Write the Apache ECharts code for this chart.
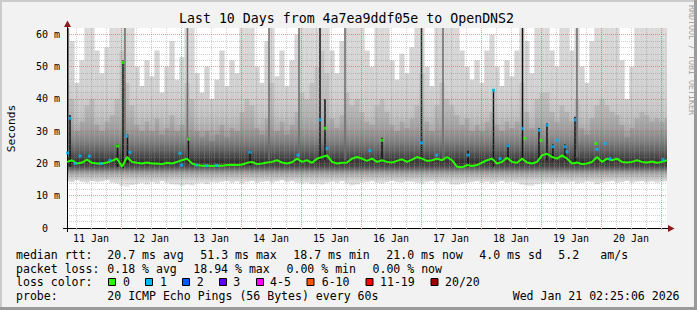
<!DOCTYPE html>
<html><head><meta charset="utf-8">
<script src="https://cdn.jsdelivr.net/npm/echarts@6/dist/echarts.min.js"></script>
<style>html,body{margin:0;padding:0;background:#f2f2f2}#c{width:697px;height:310px}</style>
</head><body><div id="c"></div>
<script>
// ---- time axis (hours after 11 Jan 2026 00:00) ----
const T_START = 2 + 25/60 + 6/3600;   // Jan 11 02:25:06
const T_END = T_START + 240;          // Jan 21 02:25:06
const STEP = 2;                       // sampling step of the arrays below (hours)
const dayLabels = ['11 Jan','12 Jan','13 Jan','14 Jan','15 Jan','16 Jan','17 Jan','18 Jan','19 Jan','20 Jan'];
const labelHours = [12,36,60,84,108,132,156,180,204,228];
const gridHours = [6,12,18,24,30,36,42,48,54,60,66,72,78,84,90,96,102,108,114,120,126,132,138,144,150,156,162,168,174,180,186,192,198,204,210,216,222,228,234,240];
const yLabelValues = [0,10,20,30,40,50,60];

// ---- median rtt (ms), one value every STEP hours ----
const median = [20.5,21,20,20.3,21.2,20.2,20,20,20.3,20.8, 21.5,19,22,20.5,20.2,20,20.3,20,20,19.8,
 20.2,20,20.5,21,21.5,20,19.5,19.3,19.4,19.2, 19.4,19.3,19.5,19.6,19.5,19.7,20.2,20.5,19.8,20,
 20.3,20.5,21,20.3,20,20.4,21.5,20.5,21,20.2, 21.5,22,22.5,20.5,20,20.2,20.3,21.5,22,21.5,
 20.8,21.5,20.5,21,20.5,20.3,20.8,21.3,20.5,21.2, 22,21.5,20.8,21,21.5,21,22,21,19,18.8,
 19.5,19.2,19.5,20.3,21,21.5,20,20.5,21.8,20.5, 20.2,21.5,20.3,20,20.5,22.5,23,22,21.5,22.5,
 21.5,20,20.3,19.8,20,20.5,22,20.5,21.5,21, 21.5,20.5,20.3,20.5,21,20.5,20.3,20.6,20.2,20.5, 21];
// ---- smoke envelope: lowest ping, upper edge of the darker part, highest ping (ms) ----
const smokeLow = [14.5,14.2,14.8,14.3,14.0,14.6,14.2,14.4,14.8,14.0,13.8,
 13.0,12.8,13.3,13.6,14.0,13.5,14.2,13.8,14.5,14.0, 13.6,13.4,13.0,13.5,13.2,13.8,14.0,13.6,14.2,14.0,
 14.3,14.5,14.0,14.4,13.8,14.2,14.6,14.0,14.3,14.5, 14.0,14.4,14.8,14.2,14.5,14.0,13.8,14.0,13.6,13.8,
 13.5,14.0,14.3,14.0,14.5,13.8,13.2,13.5,14.0,14.2, 14.5,14.0,13.8,14.2,14.6,14.2,14.0,14.4,14.3,14.0,
 13.8,14.2,14.5,14.0,14.4,14.2,13.6,13.4,13.8,14.0, 14.2,14.5,14.0,14.3,13.8,14.2,14.5,14.0,14.3,14.0,
 13.5,13.2,13.0,13.6,13.8,14.0,13.6,14.2,13.8,14.0, 14.3,13.8,14.0,14.4,14.2,13.6,14.0,14.3,14.5,14.0,
 14.2,14.6,14.0,14.3,14.5,14.1,14.4,14.0,14.3,14.5];
const smokeMid = [45,40,30,33,38,40,32,30,33,35, 40,55,45,38,32,30,33,30,34,29, 31,35,30,32,45,40,30,28,30,27,
 29,32,28,31,30,36,40,38,31,29, 34,45,30,33,29,32,36,42,40,45, 50,55,48,34,31,35,42,38,40,36,
 33,32,38,40,36,32,30,33,31,34, 38,48,33,30,38,45,40,38,35,32, 34,30,32,30,33,36,32,30,33,31,
 33,45,36,31,40,42,42,36,33,38, 36,33,40,31,29,34,38,40,38,36, 35,32,28,31,34,36,35,33,34,33, 34];
const smokeHigh = [62,58,45,52,62,62,55,48,56,62, 62,62,62,62,50,44,52,47,55,42, 50,58,46,53,62,62,48,42,50,40,
 46,55,44,52,48,62,62,62,50,45, 58,62,47,55,44,52,60,62,62,62, 62,62,62,55,48,58,62,62,62,62,
 55,50,62,62,62,52,46,54,48,56, 62,62,50,44,62,62,62,62,62,55, 50,46,52,45,55,60,50,44,52,47,
 55,62,58,48,62,62,62,55,50,62, 62,55,62,50,45,58,62,62,62,62, 62,52,40,50,62,62,62,62,62,62, 62];

// ---- short bursts (hours, ms) ----
const spikeT  = [3.62,22.62,24.82,26.62,51.02,75.62,103.62,105.62,128.42,144.22,162.82,173.02,178.82,184.62,191.22,194.42,196.82,201.62,205.62];
const spikeLo = [19,19,18.5,20,20,19.5,21,21,21,21,19,19,21,21,21,21,21,21,20];
const spikeHi = [35,26,52,29,28,24,62,40,28,62,24,43,26,62,31,32.5,26,26,34.5];
const streakT  = [2.9,25.6,50.6,83.22,95.22,113.62,152.82,206.4];
const streakLo = [22,22,22,21,21,21,21,22];
const streakHi = [62,62,62,62,62,62,62,62];

// ---- median samples drawn with their loss colour ----
const markT = [2.62,3.62,5.62,7.62,11.34,16.02,19.62,22.62,24.82,26.3,27.6,47.6,48.3,51.02,54.3,58.3,62.3,75.62,94.82,103.62,105.62,106.42,123.62,128.42,144.22,150.3,162.82,173.02,175.62,178.82,184.62,185.62,191.22,192.02,194.42,196.82,198.42,201.62,202.42,205.62,214.02,214.42,217.62,219.62,240.82];
const markV = [23.3,34,20,22.3,22.3,20,21,25.4,51.3,28.5,23.5,23.2,19.5,27.5,19.5,19.3,19.4,23.5,22.6,33.5,30.9,24.7,24,27.2,26.4,22.6,22.6,42.7,21.5,25.5,30.8,27.8,30.3,27.2,31.9,25.2,27.2,25.2,23.6,33.5,26.2,24.4,26.2,21.5,21.2];
const markLoss = [1,1,1,1,1,1,1,0,0,1, 1,1,1,0,1,1,1,1,1,1, 0,1,1,0,1,1,1,1,1,1, 1,0,1,0,1,1,1,1,1,1, 0,1,1,1,1];

// ---- legend texts ----
const lossNames = ['0','1','2','3','4-5','6-10','11-19','20/20'];
const lossColors = ['#26ff00','#00b8ff','#0059ff','#5e00ff','#ff00ff','#ff5500','#ff0000','#a10000'];
const rttTexts = ['median rtt:','20.7 ms avg','51.3 ms max','18.7 ms min','21.0 ms now','4.0 ms sd','5.2','am/s'];
const lossTexts = ['packet loss:','0.18 % avg','18.94 % max','0.00 % min','0.00 % now'];
const probeTexts = ['probe:','20 ICMP Echo Pings (56 Bytes) every 60s','Wed Jan 21 02:25:06 2026'];
const titleText = 'Last 10 Days from 4a7ea9ddf05e to OpenDNS2';

// ================= drawing =================
const FONT = 'DejaVu Sans Mono';
const chart = echarts.init(document.getElementById('c'), null, {renderer:'svg', width:697, height:310});
const times = median.map((_, k) => T_START + STEP * k);

const smokeGrad = new echarts.graphic.LinearGradient(0, 186, 0, 28, [
  {offset:0, color:'#e8e8e8'}, {offset:0.032, color:'#d6d6d6'}, {offset:0.063, color:'#bababa'},
  {offset:0.089, color:'#969696'}, {offset:0.108, color:'#6a6a6a'}, {offset:0.127, color:'#474747'},
  {offset:0.152, color:'#363636'}, {offset:0.184, color:'#4c4c4c'}, {offset:0.228, color:'#6c6c6c'},
  {offset:0.291, color:'#909090'}, {offset:0.367, color:'#aeaeae'}, {offset:0.468, color:'#c4c4c4'},
  {offset:0.608, color:'#d0d0d0'}, {offset:1, color:'#d9d9d9'}], true);

function columns(fill, half) {
  return function (params, api) {
    const t = api.value(0), lo = api.value(1), hi = api.value(2);
    const a = api.coord([t - half, hi]);
    const b = api.coord([t + half, lo]);
    const cs = params.coordSys;
    const x1 = Math.max(a[0], cs.x), x2 = Math.min(b[0], cs.x + cs.width);
    const y1 = Math.max(a[1], cs.y), y2 = Math.min(b[1], cs.y + cs.height);
    if (x2 <= x1 || y2 <= y1) return null;
    return {type:'rect', silent:true, shape:{x:x1, y:y1, width:x2 - x1, height:y2 - y1}, style:{fill:fill}};
  };
}

const majorC = 'rgba(220,70,70,0.55)';
const minorC = 'rgba(130,130,130,0.38)';

const graphics = [];
// frame
graphics.push({type:'rect', shape:{x:0, y:0, width:697, height:2}, style:{fill:'#cbcbcb'}, silent:true});
graphics.push({type:'rect', shape:{x:0, y:0, width:2, height:310}, style:{fill:'#cbcbcb'}, silent:true});
graphics.push({type:'rect', shape:{x:0, y:307, width:697, height:3}, style:{fill:'#999999'}, silent:true});
graphics.push({type:'rect', shape:{x:694, y:0, width:3, height:310}, style:{fill:'#999999'}, silent:true});
// axis extensions and arrows
graphics.push({type:'line', z:10, shape:{x1:63, y1:228.5, x2:67, y2:228.5}, style:{stroke:'#000', lineWidth:1}, silent:true});
graphics.push({type:'line', z:10, shape:{x1:667, y1:228.5, x2:669, y2:228.5}, style:{stroke:'#000', lineWidth:1}, silent:true});
graphics.push({type:'line', z:10, shape:{x1:67.5, y1:228, x2:67.5, y2:232}, style:{stroke:'#000', lineWidth:1}, silent:true});
graphics.push({type:'line', z:10, shape:{x1:67.5, y1:25, x2:67.5, y2:28}, style:{stroke:'#000', lineWidth:1}, silent:true});
graphics.push({type:'polygon', z:10, shape:{points:[[668,225],[674.5,228.5],[668,232]]}, style:{fill:'#8b1a1a'}, silent:true});
graphics.push({type:'polygon', z:10, shape:{points:[[64,27],[67.5,20.5],[71,27]]}, style:{fill:'#8b1a1a'}, silent:true});

function txt(x, y, s, size, align) {
  const a = align || 'left';
  return {type:'text', x:x, y:y, silent:true,
    style:{text:s, fill:'#000', font:size + 'px "' + FONT + '"', fontSize:size, fontFamily:FONT,
      align:a, verticalAlign:'middle', textAlign:a, textVerticalAlign:'middle'}};
}
// vertical texts
const unitLabel = txt(11, 128.5, 'Seconds', 11.3, 'center');
unitLabel.rotation = Math.PI / 2;
graphics.push(unitLabel);
const mark = txt(692, 60, 'RRDTOOL / TOBI OETIKER', 8.3, 'center');
mark.rotation = -Math.PI / 2;
mark.style.fill = '#a3a3a3';
graphics.push(mark);

const LS = 11.55;
const rttX = [16,107.3,200.3,293.3,386.3,479.3,558.3,600.3];
rttTexts.forEach((s, i) => graphics.push(txt(rttX[i], 254.8, s, LS)));
const lossX = [16,107.3,193.3,286.5,372.5];
lossTexts.forEach((s, i) => graphics.push(txt(lossX[i], 268.5, s, LS)));
graphics.push(txt(16, 282.2, 'loss color:', LS));
const boxX = [108.5,145.5,182.5,219.5,256.5,307,366,431];
const boxTextX = [123,160,196.7,233.3,270,321.7,380,445];
lossNames.forEach((s, i) => {
  graphics.push({type:'rect', silent:true, shape:{x:boxX[i], y:278.5, width:7, height:7}, style:{fill:lossColors[i], stroke:'#000', lineWidth:1}});
  graphics.push(txt(boxTextX[i], 282.2, s, LS));
});
const probeX = [16,107.3,512.7];
probeTexts.forEach((s, i) => graphics.push(txt(probeX[i], 296, s, LS)));

chart.setOption({
  backgroundColor:'#f2f2f2',
  animation:false,
  title:{text:titleText, left:179, top:12, padding:0,
    textStyle:{fontFamily:FONT, fontSize:13.25, fontWeight:'normal', color:'#000'}},
  grid:{left:67, right:30, top:28, bottom:82, show:true, backgroundColor:'#ffffff', borderWidth:0, outerBoundsMode:'none', containLabel:false},
  xAxis:{type:'value', min:T_START, max:T_END, z:3,
    axisLine:{show:true, onZero:false, lineStyle:{color:'#000', width:1}},
    axisTick:{show:true, customValues:gridHours, length:2, lineStyle:{color:'#d8a8a8'}},
    axisLabel:{customValues:labelHours, margin:5, color:'#000', fontFamily:FONT, fontSize:10,
      formatter:v => dayLabels[Math.round((v - labelHours[0]) / 24)] || ''},
    splitLine:{show:true, lineStyle:{color:[minorC, minorC, minorC, majorC], type:[1,1], width:1}}},
  yAxis:{type:'value', min:0, max:62, interval:2, z:3,
    axisLine:{show:true, lineStyle:{color:'#000', width:1}},
    axisTick:{show:false},
    axisLabel:{customValues:yLabelValues, margin:7, color:'#000', fontFamily:FONT, fontSize:10,
      formatter:v => v === 0 ? '{z|0}' : v + ' m',
      rich:{z:{padding:[0,12,0,0], fontFamily:FONT, fontSize:10, color:'#000'}}},
    splitLine:{show:true, showMaxLine:false, lineStyle:{color:[majorC, minorC, minorC, minorC, minorC], type:[1,1], width:1}}},
  graphic:graphics,
  series:[
    {type:'custom', z:1, silent:true, clip:true, renderItem:columns(smokeGrad, STEP/2 + 0.05),
      encode:{x:0, y:[1,2]}, data:times.map((t, k) => [t, smokeLow[k], smokeHigh[k]])},
    {type:'custom', z:1, silent:true, clip:true, renderItem:columns('rgba(0,0,0,0.08)', STEP/2 + 0.05),
      encode:{x:0, y:[1,2]}, data:times.map((t, k) => [t, median[k], smokeMid[k]])},
    {type:'custom', z:2, silent:true, clip:true, renderItem:columns('#6a6a6a', 0.3),
      encode:{x:0, y:[1,2]}, data:streakT.map((t, k) => [t, streakLo[k], streakHi[k]])},
    {type:'custom', z:2, silent:true, clip:true, renderItem:columns('#141414', 0.3),
      encode:{x:0, y:[1,2]}, data:spikeT.map((t, k) => [t, spikeLo[k], spikeHi[k]])},
    {type:'line', z:4, silent:true, showSymbol:false, clip:true,
      lineStyle:{color:lossColors[0], width:2}, data:times.map((t, k) => [t, median[k]])},
    {type:'scatter', z:5, silent:true, symbol:'rect', symbolSize:[3,3],
      itemStyle:{color:p => lossColors[p.data[2]]},
      data:markT.map((t, k) => [t, markV[k], markLoss[k]])}
  ]
});
</script></body></html>
